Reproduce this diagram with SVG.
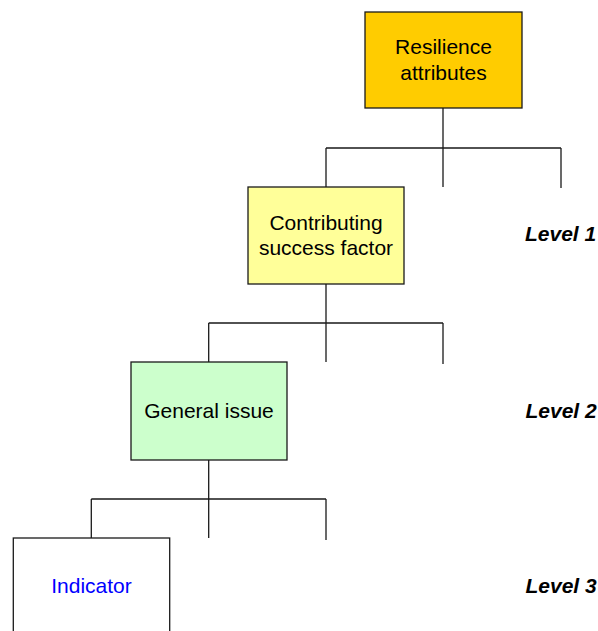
<svg xmlns="http://www.w3.org/2000/svg" width="598" height="631" viewBox="0 0 598 631">
<style>
.box{stroke:#1a1a1a;stroke-width:1.3}
.t{font-family:"Liberation Sans",Arial,sans-serif;font-size:21px;text-anchor:middle;fill:#000}
.lv{font-family:"Liberation Sans",Arial,sans-serif;font-size:21px;font-weight:bold;font-style:italic;fill:#000}
.c{fill:none;stroke:#1a1a1a;stroke-width:1.3}
</style>
<rect width="598" height="631" fill="#fff"/>
<g id="connectors" class="c">
<path d="M443 108V148M326 148H561M326 148V187M443 148V187M561 148V188"/>
<path d="M326 284V323M208.7 323H443M208.7 323V362M326 323V362M443 323V364"/>
<path d="M208.7 460V499M91.3 499H326M91.3 499V538M208.7 499V538M326 499V540"/>
</g>
<g id="resilience">
<rect class="box" x="365" y="12" width="157" height="96" fill="#FFCC00"/>
<text class="t" x="443.5" y="54">Resilience</text>
<text class="t" x="443.5" y="79.5">attributes</text>
</g>
<g id="contributing">
<rect class="box" x="248" y="187" width="156" height="97" fill="#FFFF99"/>
<text class="t" x="326" y="230">Contributing</text>
<text class="t" x="326" y="255">success factor</text>
</g>
<g id="general">
<rect class="box" x="131" y="362" width="156" height="98" fill="#CCFFCC"/>
<text class="t" x="209" y="418">General issue</text>
</g>
<g id="indicator">
<rect class="box" x="13.3" y="538" width="156.4" height="110" fill="#fff"/>
<text class="t" x="91.5" y="593" style="fill:#0000FF">Indicator</text>
</g>
<g id="levels">
<text class="lv" x="525" y="241">Level 1</text>
<text class="lv" x="525.5" y="418">Level 2</text>
<text class="lv" x="525.5" y="593">Level 3</text>
</g>
</svg>
